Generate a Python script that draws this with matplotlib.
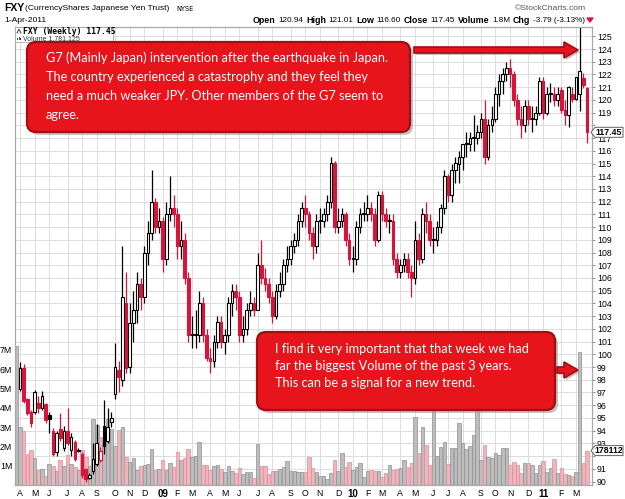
import datetime as dt

import matplotlib
matplotlib.use("Agg")
import matplotlib.pyplot as plt
import numpy as np
from matplotlib.patches import FancyBboxPatch, Polygon, Rectangle

W, H = 625, 499
FIRST_WEEK = dt.date(2008, 3, 31)   # Monday of the first weekly bar

# ---- weekly FXY bars ----
opens = [np.nan, 97.3, 98.9, 96.5, 95.5, 95.5, 96.2, 95.8, 96.1, 95.2,
         94.0, 92.3, 94.1, 92.6, 94.0, 92.5, 93.1, 92.5, 92.2, 91.0,
         90.3, 90.8, 91.4, 91.7, 94.4, 93.2, 94.7, 96.9, 98.8, 98.0,
         104.0, 99.0, 102.5, 103.5, 105.5, 104.5, 108.0, 109.5, 112.0, 110.0,
         110.5, 107.5, 111.0, 111.5, 111.0, 108.5, 109.0, 106.0, 101.5, 101.5,
         101.5, 104.0, 101.5, 99.7, 99.5, 101.0, 102.5, 101.0, 101.5, 104.0,
         105.0, 104.5, 101.5, 102.0, 103.5, 104.0, 103.5, 107.0, 106.0, 105.5,
         104.5, 103.0, 105.0, 105.5, 107.0, 107.5, 108.5, 109.0, 110.5, 111.5,
         111.0, 109.5, 108.5, 110.5, 110.5, 111.0, 112.0, 115.0, 110.0, 110.5,
         111.0, 109.0, 107.5, 107.5, 110.0, 111.0, 111.0, 111.5, 111.0, 109.0,
         112.5, 111.0, 110.5, 110.5, 107.5, 106.5, 107.0, 107.5, 106.5, 106.0,
         109.0, 107.5, 111.0, 110.5, 109.0, 109.0, 110.0, 111.5, 114.0, 112.5,
         114.5, 115.0, 115.5, 116.5, 116.5, 117.0, 117.0, 117.5, 118.5, 115.5,
         118.0, 118.5, 120.5, 121.5, 122.0, 122.5, 122.0, 120.0, 118.5, 118.0,
         119.5, 118.5, 118.5, 119.0, 121.5, 119.0, 120.5, 120.5, 120.0, 120.8,
         119.2, 118.8, 120.5, 120.1, 120.5, 121.7, 120.94]
highs = [np.nan, 99.4, 99.2, 96.6, 95.6, 97.2, 96.7, 97.1, 96.2, 95.5,
         94.2, 94.0, 95.4, 94.4, 95.8, 93.8, 93.3, 92.6, 92.3, 91.1,
         90.7, 93.0, 94.5, 92.7, 96.4, 95.8, 95.5, 100.9, 99.5, 108.5,
         106.5, 104.0, 105.0, 106.5, 106.0, 108.5, 110.5, 114.5, 112.3, 111.5,
         110.8, 112.0, 114.0, 112.5, 111.5, 110.5, 109.5, 106.5, 103.0, 103.5,
         105.0, 104.5, 102.0, 100.5, 101.5, 103.0, 103.0, 102.0, 104.5, 105.5,
         105.5, 105.0, 103.0, 104.0, 105.0, 104.5, 108.0, 109.0, 106.8, 106.0,
         105.0, 105.5, 106.5, 107.5, 108.5, 109.0, 109.5, 111.0, 112.0, 112.5,
         111.3, 110.0, 111.0, 111.5, 111.5, 112.5, 115.5, 115.2, 111.5, 111.5,
         111.2, 109.5, 108.5, 110.5, 111.5, 112.0, 112.5, 112.0, 111.5, 112.8,
         112.8, 111.5, 111.0, 111.0, 108.0, 107.5, 108.0, 108.0, 107.0, 110.5,
         109.5, 111.5, 112.0, 111.0, 110.0, 110.5, 111.8, 114.5, 114.2, 115.0,
         115.5, 116.0, 116.5, 117.5, 117.5, 118.8, 118.0, 119.0, 120.0, 118.5,
         119.5, 121.0, 122.0, 122.5, 123.0, 123.2, 122.3, 120.5, 119.5, 120.0,
         120.0, 119.5, 119.5, 121.8, 121.8, 121.0, 121.3, 121.0, 121.0, 121.0,
         120.0, 121.1, 121.0, 121.8, 125.8, 122.1, 121.01]
lows = [np.nan, 97.1, 96.2, 95.2, 94.3, 95.3, 95.4, 95.6, 94.6, 93.8,
        92.0, 92.0, 93.2, 92.4, 92.9, 92.0, 91.6, 92.3, 90.3, 90.0,
        90.2, 90.6, 91.2, 91.5, 92.2, 93.0, 94.3, 96.5, 97.0, 97.5,
        98.5, 98.5, 101.0, 102.5, 103.5, 104.0, 107.0, 109.0, 109.5, 109.5,
        106.5, 107.0, 110.5, 110.0, 107.5, 107.5, 105.5, 101.0, 100.5, 100.5,
        101.0, 101.0, 99.5, 98.5, 99.0, 100.5, 100.5, 100.0, 101.0, 103.0,
        103.5, 101.0, 101.0, 101.5, 103.0, 103.0, 103.5, 105.5, 105.0, 104.0,
        102.5, 102.8, 104.5, 105.0, 106.5, 107.0, 108.0, 108.5, 110.0, 110.0,
        109.0, 107.5, 108.0, 109.5, 110.0, 110.5, 111.5, 109.5, 109.5, 110.0,
        108.5, 107.0, 106.5, 107.0, 109.5, 110.5, 110.5, 110.5, 108.5, 108.8,
        110.5, 110.0, 109.5, 107.0, 106.0, 106.0, 106.5, 106.0, 104.5, 105.5,
        107.0, 107.2, 109.5, 108.5, 108.0, 108.5, 109.5, 111.0, 112.0, 112.0,
        113.5, 113.5, 114.5, 115.5, 116.0, 116.0, 116.5, 117.0, 115.0, 115.3,
        117.5, 118.3, 119.5, 120.5, 121.5, 121.0, 119.5, 118.0, 117.0, 117.5,
        118.0, 117.5, 118.0, 118.8, 118.5, 118.8, 119.8, 119.5, 119.5, 119.0,
        118.0, 117.9, 119.8, 120.0, 119.1, 120.9, 116.60]
closes = [np.nan, 98.9, 96.3, 95.4, 94.6, 97.0, 95.8, 96.7, 94.8, 94.9,
          92.2, 93.8, 93.4, 94.0, 93.0, 93.5, 91.8, 92.4, 90.5, 90.2,
          90.5, 91.8, 93.0, 92.4, 92.8, 94.3, 95.0, 99.0, 98.2, 104.5,
          98.9, 102.5, 103.5, 105.5, 104.5, 108.0, 109.5, 112.0, 110.0, 110.5,
          107.5, 111.0, 111.5, 111.0, 108.5, 109.0, 106.0, 101.5, 101.5, 101.5,
          104.0, 101.5, 99.7, 99.5, 101.0, 102.5, 101.0, 101.5, 104.0, 105.0,
          104.5, 101.5, 102.0, 103.5, 104.0, 103.5, 107.0, 106.0, 105.5, 104.5,
          103.0, 105.0, 105.5, 107.0, 107.5, 108.5, 109.0, 110.5, 111.5, 111.0,
          109.5, 108.5, 110.5, 110.5, 111.0, 112.0, 115.0, 110.0, 110.5, 111.0,
          109.0, 107.5, 107.5, 110.0, 111.0, 111.0, 111.5, 111.0, 109.0, 112.5,
          111.0, 110.5, 110.5, 107.5, 106.5, 107.0, 107.5, 106.5, 106.0, 109.0,
          107.5, 111.0, 110.5, 109.0, 109.0, 110.0, 111.5, 114.0, 112.5, 114.5,
          115.0, 115.5, 116.5, 116.5, 117.0, 117.0, 117.5, 118.5, 115.5, 118.0,
          118.5, 120.5, 121.5, 122.0, 122.5, 122.0, 120.0, 118.5, 118.0, 119.5,
          118.5, 118.5, 119.0, 121.5, 119.0, 120.5, 120.5, 120.0, 120.5, 119.2,
          118.8, 121.0, 120.1, 121.8, 122.3, 121.2, 117.45]
volumes_m = [7.2, 3.0, 2.8, 1.6, 1.8, 1.4, 0.8, 0.85, 0.45, 1.1,
             1.0, 0.7, 1.3, 1.0, 1.55, 1.1, 0.95, 0.8, 1.8, 1.45,
             1.0, 3.4, 3.1, 2.5, 2.1, 3.4, 2.9, 2.0, 2.85, 3.0,
             1.45, 1.2, 1.4, 0.8, 1.0, 1.05, 1.1, 1.85, 0.8, 0.85,
             1.3, 0.8, 1.15, 0.95, 1.7, 1.3, 1.4, 1.85, 1.45, 1.5,
             2.2, 1.05, 1.05, 0.8, 1.0, 1.05, 0.85, 0.65, 1.0, 0.7,
             0.6, 0.9, 0.55, 0.65, 0.65, 0.35, 2.1, 1.0, 1.0, 0.55,
             0.7, 0.7, 0.85, 0.95, 1.25, 0.75, 0.7, 0.65, 0.65, 0.65,
             1.45, 0.9, 0.65, 0.45, 0.45, 0.3, 0.6, 1.3, 0.7, 1.65,
             0.95, 1.2, 0.8, 0.95, 1.15, 0.4, 0.75, 0.8, 0.75, 0.7,
             0.4, 0.6, 1.05, 0.8, 0.85, 0.86, 1.29, 0.95, 1.12, 3.5,
             1.64, 3.0, 2.07, 1.03, 4.0, 1.5, 1.95, 2.2, 1.09, 1.91,
             1.91, 3.2, 2.19, 1.84, 2.0, 2.6, 4.0, 1.29, 2.07, 1.47,
             1.38, 1.67, 1.55, 1.9, 1.9, 1.03, 1.2, 1.03, 0.6, 1.16,
             1.16, 1.03, 0.6, 1.03, 1.24, 0.69, 0.86, 1.33, 0.6, 0.86,
             0.55, 0.52, 0.47, 0.69, 6.9, 1.12, 1.78]

price_ticks = list(range(90, 126))
hidden_price_labels = [92, 118]          # sit under the value tags
vol_ticks = [1, 2, 3, 4, 5, 6, 7]

header_items = [("Open", True), ("120.94", False), ("High", True), ("121.01", False),
                ("Low", True), ("116.60", False), ("Close", True), ("117.45", False),
                ("Volume", True), ("1.8M", False), ("Chg", True), ("-3.79 (-3.13%)", False)]

top_note = ("G7 (Mainly Japan) intervention after the earthquake in Japan.\n"
            "The country experienced a catastrophy and they feel they\n"
            "need a much weaker JPY. Other members of the G7 seem to\n"
            "agree.")
bottom_note = ("I find it very important that that week we had\n"
               "far the biggest Volume of the past 3 years.\n"
               "This can be a signal for a new trend.")

RED = "#d7143c"
GRID = "#dcdcdc"
AX_FONT = "Liberation Sans"

o = np.array(opens)
h = np.array(highs)
l = np.array(lows)
c = np.array(closes)
v = np.array(volumes_m)
n = len(c)
xi = np.arange(n)
weeks = [FIRST_WEEK + dt.timedelta(days=7 * i) for i in range(n)]

prev = np.r_[np.nan, c[:-1]]
down = c < prev
col = np.where(down, RED, "black")
filled = c < o

fig = plt.figure(figsize=(W / 100, H / 100), dpi=100)
L, R, T, B = 15, 592, 27, 485
ax_v = fig.add_axes([L / W, 1 - B / H, (R - L) / W, (B - T) / H])
ax_p = ax_v.twinx()

pmax = 125 + (36.3 - T) / 12.72
pmin = 125 - (B - 36.3) / 12.72
ax_p.set_ylim(pmin, pmax)
ax_v.set_ylim(0, (B - T) / 19.33)
xl = ((L - 16.3) / 3.658, (R - 16.3) / 3.658)
ax_v.set_xlim(*xl)
ax_p.set_xlim(*xl)

# grid (under everything)
for p in price_ticks:
    f = (p - pmin) / (pmax - pmin)
    ax_v.plot([0, 1], [f, f], transform=ax_v.transAxes, color=GRID, lw=0.7, zorder=0)
month_pos, month_lab, year_flag = [], [], []
for i in range(1, n):
    if weeks[i].month != weeks[i - 1].month:
        month_pos.append(i)
        if weeks[i].month == 1:
            month_lab.append(f"{weeks[i].year % 100:02d}")
            year_flag.append(True)
        else:
            month_lab.append("JFMAMJJASOND"[weeks[i].month - 1])
            year_flag.append(False)
for mp in month_pos:
    ax_v.axvline(mp, color=GRID, lw=0.7, zorder=0)

# volume
vfc = np.where(down, "#f0b5bc", "#bdbdbd")
vec = np.where(down, "#dc8d98", "#8e8e8e")
vfc[0], vec[0] = "#bdbdbd", "#8e8e8e"
ax_v.bar(xi, v, width=0.95, color=vfc, edgecolor=vec, linewidth=0.5, zorder=2)

# candles
ok = ~np.isnan(c)
ax_p.vlines(xi[ok], l[ok], h[ok], colors=col[ok], linewidth=0.9, zorder=2)
body_lo = np.minimum(o, c)
body_h = np.maximum(np.abs(c - o), 0.08)
fc = np.where(filled, col, "white")
ax_p.bar(xi[ok], body_h[ok], bottom=body_lo[ok], width=0.72, color=fc[ok],
         edgecolor=col[ok], linewidth=0.8, zorder=3)

# axes styling
for a in (ax_v, ax_p):
    for s in a.spines.values():
        s.set_color("#a8a8a8")
        s.set_linewidth(0.8)
ax_p.set_yticks(price_ticks)
ax_p.set_yticklabels(["" if t in hidden_price_labels else str(t) for t in price_ticks],
                     fontsize=6.3, family=AX_FONT)
ax_p.tick_params(axis="y", length=2.5, width=0.6, color="#808080", pad=1)
ax_v.set_yticks(vol_ticks)
ax_v.set_yticklabels([f"{t}M" for t in vol_ticks], fontsize=6.3, family=AX_FONT)
ax_v.tick_params(axis="y", length=0, pad=2)
ax_v.set_xticks(month_pos)
ax_v.set_xticklabels(month_lab, fontsize=6.3, family=AX_FONT)
ax_v.tick_params(axis="x", length=0, pad=3)
for lab, yf in zip(ax_v.get_xticklabels(), year_flag):
    if yf:
        lab.set_fontweight("bold")
        lab.set_fontsize(7)

# overlay in pixel coordinates
ov = fig.add_axes([0, 0, 1, 1], zorder=10)
ov.set_xlim(0, W)
ov.set_ylim(H, 0)
ov.axis("off")
rend = fig.canvas.get_renderer()

# header
ov.text(4, 8, "FXY", fontsize=7.5, fontweight="bold", family=AX_FONT, va="center")
ov.text(25, 8.5, "(CurrencyShares Japanese Yen Trust)", fontsize=6.1, family=AX_FONT, va="center")
ov.text(176, 9, "NYSE", fontsize=4.8, family="DejaVu Sans", va="center")
ov.text(4, 20, "1-Apr-2011", fontsize=6.1, family=AX_FONT, va="center")
ov.text(586, 8, "\u00a9StockCharts.com", fontsize=6.1, family=AX_FONT, va="center",
        ha="right", color="#555555")
hdr_texts = [ov.text(0, 20, t, fontsize=6.4 if b else 5.9, fontweight="bold" if b else "normal",
                     family=AX_FONT, va="center") for t, b in header_items]
widths = [t.get_window_extent(renderer=rend).width for t in hdr_texts]
gap = (585 - 253 - sum(widths)) / (len(widths) - 1)
hx = 253
for t, wd in zip(hdr_texts, widths):
    t.set_x(hx)
    hx += wd + gap
ov.add_patch(Polygon([[587, 18], [593, 18], [590, 22]], closed=True, color=RED))

# legend box
ov.add_patch(Rectangle((15, 27), 98, 15, facecolor="white", edgecolor="#a8a8a8", lw=0.6))
ov.plot([17, 19, 21], [33, 29, 33], color="#444444", lw=0.7)
for bx, bh in [(17, 2), (18.5, 3.5), (20, 2.5)]:
    ov.add_patch(Rectangle((bx, 40 - bh), 1, bh, color="#444444", lw=0))
ov.text(23, 31.5, "FXY (Weekly) 117.45", fontsize=5.8, family="DejaVu Sans Mono",
        fontweight="bold", va="center")
ov.text(23, 38.3, "Volume 1,781,125", fontsize=5.0, family=AX_FONT, va="center", color="#333333")

# value tags on the right
for ty, tt in [(132.3, "117.45"), (450.6, "178112")]:
    ov.add_patch(Polygon([[591, ty], [595, ty - 5], [623, ty - 5], [623, ty + 5], [595, ty + 5]],
                         closed=True, facecolor="white", edgecolor="#606060", lw=0.7))
    ov.text(609, ty + 0.3, tt, fontsize=6.3, fontweight="bold", family=AX_FONT,
            ha="center", va="center")


def note_box(x0, y0, w, hgt):
    ov.add_patch(FancyBboxPatch((x0 + 3, y0 + 3), w, hgt, boxstyle="round,pad=0,rounding_size=9",
                                facecolor="#9a9a9a", edgecolor="none", alpha=0.6))
    ov.add_patch(FancyBboxPatch((x0, y0), w, hgt, boxstyle="round,pad=0,rounding_size=9",
                                facecolor="#e8141c", edgecolor="#a20d12", lw=1.6))


def arrow(x0, x1, y):
    hl, hw, sw = 14, 8, 3
    pts = [[x0, y - sw], [x1 - hl, y - sw], [x1 - hl, y - hw], [x1, y],
           [x1 - hl, y + hw], [x1 - hl, y + sw], [x0, y + sw]]
    ov.add_patch(Polygon([[a + 2, b + 2] for a, b in pts], closed=True,
                         facecolor="#9a9a9a", edgecolor="none", alpha=0.6))
    ov.add_patch(Polygon(pts, closed=True, facecolor="#e8141c", edgecolor="#a20d12", lw=1.2))


note_box(27, 42, 383, 90)
ov.text(46, 51, top_note, fontsize=9.2, family="Lato", color="white", va="top",
        linespacing=1.7)
arrow(414, 578, 50)

note_box(257, 332, 298, 78)
ov.text(275, 343, bottom_note, fontsize=9.2, family="Lato", color="white", va="top",
        linespacing=1.5)
arrow(557, 578, 370)

fig.savefig("out.png", dpi=100)
